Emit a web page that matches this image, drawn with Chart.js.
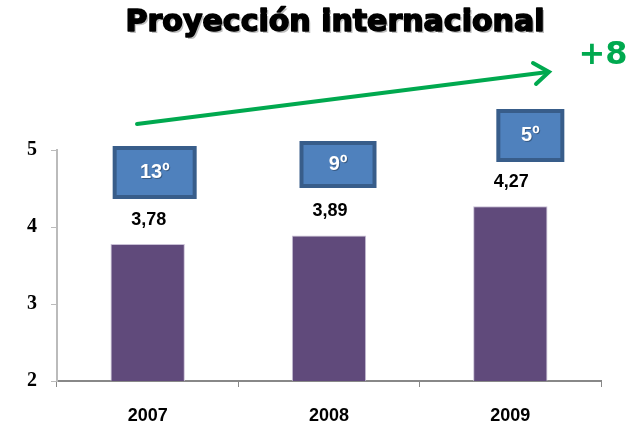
<!DOCTYPE html>
<html>
<head>
<meta charset="utf-8">
<script src="https://cdn.jsdelivr.net/npm/chart.js@4.4.0/dist/chart.umd.min.js"></script>
<style>
  body { margin: 0; background: #fff; }
  #wrap { width: 628px; height: 431px; }
</style>
</head>
<body>
<div id="wrap"><canvas id="projChart" width="628" height="431"></canvas></div>
<script>
const years = ['2007', '2008', '2009'];
const scores = [3.78, 3.89, 4.27];
const ranks = ['13º', '9º', '5º'];
const yTicks = [2, 3, 4, 5];

// rank box placement, relative to each bar centre
const boxLayout = [
  { dx: 7, w: 84, h: 53, top: 146 },
  { dx: 9, w: 77, h: 47, top: 141 },
  { dx: 20, w: 68, h: 53, top: 109 }
];

const decorations = {
  id: 'decorations',
  afterDatasetsDraw(chart) {
    const c = chart.ctx;
    const xs = chart.scales.x;
    const ys = chart.scales.y;

    // title
    c.save();
    c.font = 'bold 30px "DejaVu Sans"';
    c.textAlign = 'center';
    c.textBaseline = 'middle';
    c.lineJoin = 'round';
    c.lineWidth = 1.6;
    c.fillStyle = 'rgba(0,0,0,0.25)';
    c.fillText('Proyección internacional', 337, 25);
    c.fillStyle = '#000';
    c.strokeStyle = '#000';
    c.fillText('Proyección internacional', 335, 23);
    c.strokeText('Proyección internacional', 335, 23);
    c.restore();

    // value labels
    c.save();
    c.font = 'bold 18px "Liberation Sans"';
    c.textAlign = 'center';
    c.textBaseline = 'middle';
    c.fillStyle = '#000';
    scores.forEach((v, i) => {
      const x = xs.getPixelForValue(i);
      const y = ys.getPixelForValue(v);
      c.fillText(v.toFixed(2).replace('.', ','), x + 1, y - 24);
    });
    c.restore();

    // rank boxes
    ranks.forEach((r, i) => {
      const b = boxLayout[i];
      const cx = xs.getPixelForValue(i) + b.dx;
      const x0 = cx - b.w / 2;
      c.save();
      c.fillStyle = '#385d8a';
      c.fillRect(x0, b.top, b.w, b.h);
      c.fillStyle = '#4f81bd';
      c.fillRect(x0 + 4, b.top + 4, b.w - 8, b.h - 8);
      c.font = 'bold 20px "Liberation Sans"';
      c.textAlign = 'center';
      c.textBaseline = 'middle';
      c.fillStyle = 'rgba(0,0,0,0.3)';
      c.fillText(r, cx + 1, b.top + b.h / 2 + 1);
      c.fillStyle = '#fff';
      c.fillText(r, cx, b.top + b.h / 2);
      c.restore();
    });

    // green arrow
    c.save();
    c.strokeStyle = '#00a94f';
    c.lineWidth = 4;
    c.lineCap = 'round';
    c.beginPath();
    c.moveTo(137, 124);
    c.lineTo(548, 72);
    c.stroke();
    c.beginPath();
    c.moveTo(533, 63);
    c.lineTo(549, 72);
    c.lineTo(536, 84);
    c.stroke();
    c.font = 'bold 32px "DejaVu Sans"';
    c.textAlign = 'center';
    c.textBaseline = 'middle';
    c.fillStyle = '#00a94f';
    c.fillText('+8', 603, 56);
    c.restore();
  }
};

new Chart(document.getElementById('projChart').getContext('2d'), {
  type: 'bar',
  data: {
    labels: years,
    datasets: [{
      data: scores,
      backgroundColor: '#604a7b',
      borderColor: '#c9c0d6',
      borderWidth: { top: 1, left: 1, right: 1, bottom: 0 },
      categoryPercentage: 0.41,
      barPercentage: 1
    }]
  },
  options: {
    responsive: false,
    animation: false,
    layout: { padding: { top: 150, right: 27, left: 0, bottom: 0 } },
    plugins: { legend: { display: false }, tooltip: { enabled: false } },
    scales: {
      x: {
        grid: { offset: true, drawOnChartArea: false, tickLength: 6, color: '#888' },
        border: { color: '#888', width: 2 },
        ticks: { color: '#000', font: { family: 'Liberation Sans', weight: 'bold', size: 18 }, padding: 18 },
        afterFit(s) { s.height = 50; }
      },
      y: {
        min: 2,
        max: 5,
        afterBuildTicks(s) { s.ticks = yTicks.map(v => ({ value: v })); },
        grid: { drawOnChartArea: false, tickLength: 6, color: '#bbb' },
        border: { color: '#bbb', width: 2 },
        ticks: { color: '#000', font: { family: 'Liberation Serif', weight: 'bold', size: 20 }, padding: 14 },
        afterFit(s) { s.width = 57; }
      }
    }
  },
  plugins: [decorations]
});
</script>
</body>
</html>
